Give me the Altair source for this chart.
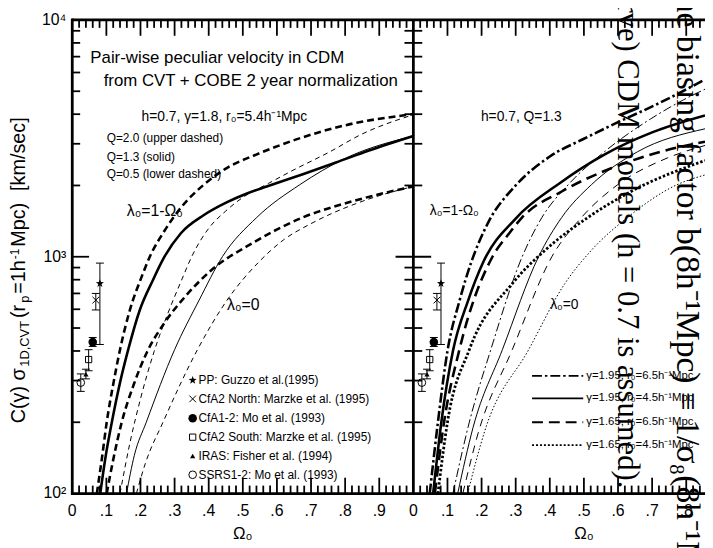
import altair as alt
import pandas as pd

# ---------------- values ----------------
# Left panel (h=0.7, gamma=1.8, r0=5.4): thick = lambda0=1-Omega0, thin = lambda0=0
L_Q20_FLAT_X = [0.072, 0.087, 0.101, 0.121, 0.140, 0.169, 0.203, 0.227, 0.271, 0.319, 0.386, 0.454, 0.541, 0.657, 0.802, 1.0]
L_Q20_FLAT_Y = [100, 141, 200, 294, 405, 596, 820, 998, 1291, 1615, 2017, 2374, 2706, 3130, 3596, 4000]
L_Q13_FLAT_X = [0.082, 0.097, 0.116, 0.140, 0.164, 0.198, 0.237, 0.266, 0.319, 0.386, 0.454, 0.512, 0.570, 0.676, 0.773, 0.870, 1.0]
L_Q13_FLAT_Y = [100, 141, 200, 294, 405, 596, 800, 975, 1260, 1500, 1700, 1850, 1980, 2230, 2500, 2810, 3236]
L_Q05_FLAT_X = [0.101, 0.121, 0.145, 0.180, 0.220, 0.270, 0.330, 0.406, 0.531, 0.676, 0.821, 1.0]
L_Q05_FLAT_Y = [100, 141, 200, 288, 398, 525, 676, 873, 1148, 1466, 1714, 1982]
L_Q20_OPEN_X = [0.140, 0.170, 0.200, 0.240, 0.280, 0.320, 0.350, 0.400, 0.450, 0.500, 0.575, 0.650, 0.750, 0.850, 1.0]
L_Q20_OPEN_Y = [100, 166, 251, 398, 575, 794, 1000, 1318, 1560, 1780, 2040, 2330, 2750, 3300, 3980]
L_Q13_OPEN_X = [0.159, 0.182, 0.217, 0.300, 0.372, 0.440, 0.541, 0.667, 0.802, 1.0]
L_Q13_OPEN_Y = [100, 145, 200, 405, 656, 1000, 1466, 2015, 2610, 3236]
L_Q05_OPEN_X = [0.188, 0.215, 0.266, 0.367, 0.454, 0.550, 0.620, 0.700, 0.850, 1.0]
L_Q05_OPEN_Y = [100, 135, 200, 405, 656, 960, 1180, 1380, 1714, 1982]

# Right panel (h=0.7, Q=1.3)
R_195_65_FLAT_X = [0.048, 0.072, 0.100, 0.135, 0.170, 0.220, 0.300, 0.400, 0.500, 0.600, 0.720, 0.855]
R_195_65_FLAT_Y = [100, 200, 400, 650, 950, 1400, 2000, 2650, 3150, 3700, 4450, 5600]
R_195_45_FLAT_X = [0.058, 0.082, 0.116, 0.160, 0.205, 0.300, 0.430, 0.560, 0.700, 0.855]
R_195_45_FLAT_Y = [100, 200, 400, 650, 950, 1450, 2050, 2700, 3350, 3950]
R_165_65_FLAT_X = [0.063, 0.090, 0.135, 0.232, 0.280, 0.319, 0.435, 0.580, 0.725, 0.855]
R_165_65_FLAT_Y = [100, 200, 405, 1000, 1250, 1466, 1886, 2365, 2775, 3060]
R_165_45_FLAT_X = [0.072, 0.100, 0.164, 0.290, 0.386, 0.512, 0.638, 0.855]
R_165_45_FLAT_Y = [100, 200, 405, 770, 1065, 1466, 1886, 2550]
R_195_65_OPEN_X = [0.116, 0.164, 0.227, 0.319, 0.377, 0.454, 0.560, 0.696, 0.792, 0.855]
R_195_65_OPEN_Y = [100, 200, 405, 1000, 1466, 2015, 2775, 3824, 4600, 5100]
R_195_45_OPEN_X = [0.130, 0.175, 0.261, 0.367, 0.435, 0.522, 0.657, 0.855]
R_195_45_OPEN_Y = [100, 190, 405, 1000, 1466, 2015, 2775, 3470]
R_165_65_OPEN_X = [0.145, 0.190, 0.290, 0.406, 0.493, 0.599, 0.744, 0.855]
R_165_65_OPEN_Y = [100, 180, 405, 1000, 1466, 2015, 2610, 2950]
R_165_45_OPEN_X = [0.159, 0.210, 0.338, 0.444, 0.522, 0.628, 0.773, 0.855]
R_165_45_OPEN_Y = [100, 185, 405, 770, 1065, 1466, 2015, 2215]

# Observations
OBS_NAMES = ["PP: Guzzo et al.(1995)", "CfA2 North: Marzke et al. (1995)", "CfA1-2: Mo et al. (1993)",
             "CfA2 South: Marzke et al. (1995)", "IRAS: Fisher et al. (1994)", "SSRS1-2: Mo et al. (1993)"]
OBS_X = [0.081, 0.069, 0.060, 0.048, 0.040, 0.025]
OBS_Y = [771, 656, 436, 368, 319, 294]
OBS_LO = [426, 596, 418, 330, 305, 270]
OBS_HI = [940, 700, 456, 405, 335, 320]
OBS_LEGEND_X = 0.353
OBS_LEGEND_Y = [301, 251, 208, 173, 144, 120]

R_LEGEND_LABELS = ["γ=1.95, r₀=6.5h⁻¹Mpc", "γ=1.95, r₀=4.5h⁻¹Mpc",
                   "γ=1.65, r₀=6.5h⁻¹Mpc", "γ=1.65, r₀=4.5h⁻¹Mpc"]
R_LEGEND_Y = [314, 252, 200, 160]

X_TICK_VALUES = [i / 10 for i in range(19)]
X_TICK_LABELS = ["0", ".1", ".2", ".3", ".4", ".5", ".6", ".7", ".8", ".9",
                 "0", ".1", ".2", ".3", ".4", ".5", ".6", ".7", ".8"]
Y_TICK_VALUES = [100, 1000, 10000]
Y_TICK_LABELS = ["10²", "10³", "10⁴"]
Y_MINOR = [200, 300, 400, 500, 600, 700, 800, 900, 2000, 3000, 4000, 5000, 6000, 7000, 8000, 9000]

# ---------------- layout / style ----------------
W, H = 640, 479
OFF = 1.0            # right panel shifted by one unit on the shared x scale
XMAX = 1.855
PX = W / XMAX
FONT = "Liberation Sans"
XS = alt.Scale(domain=[0, XMAX], nice=False, zero=False)
YS = alt.Scale(type="log", domain=[100, 10000], nice=False)


def ex(f="x"):
    return alt.X(f + ":Q", scale=XS, axis=None)


def ey(f="y"):
    return alt.Y(f + ":Q", scale=YS, axis=None)


def text_layer(df, size, align="left", baseline="middle", font=FONT, angle=None, **enc):
    kw = dict(font=font, fontSize=size, align=align, baseline=baseline, color="black")
    if angle is not None:
        kw["angle"] = angle
    return alt.Chart(df).mark_text(**kw).encode(text="t:N", **enc)


layers = []

# curves
def curve(xs, ys, width, dash, offset=0.0):
    df = pd.DataFrame({"x": [v + offset for v in xs], "y": ys})
    kw = dict(color="black", strokeWidth=width, clip=True, interpolate="monotone", strokeCap="butt")
    if dash:
        kw["strokeDash"] = dash
    return alt.Chart(df).mark_line(**kw).encode(x=ex(), y=ey())


THICK, THIN = 2.6, 1.0
layers += [
    curve(L_Q20_FLAT_X, L_Q20_FLAT_Y, THICK, [7, 4]),
    curve(L_Q13_FLAT_X, L_Q13_FLAT_Y, THICK, None),
    curve(L_Q05_FLAT_X, L_Q05_FLAT_Y, THICK, [7, 4]),
    curve(L_Q20_OPEN_X, L_Q20_OPEN_Y, THIN, [5, 4]),
    curve(L_Q13_OPEN_X, L_Q13_OPEN_Y, THIN, None),
    curve(L_Q05_OPEN_X, L_Q05_OPEN_Y, THIN, [5, 4]),
]
DASHDOT, DASH_R, DOT = [10, 3, 2.5, 3], [11, 6], [2.5, 2]
layers += [
    curve(R_195_65_FLAT_X, R_195_65_FLAT_Y, THICK, DASHDOT, OFF),
    curve(R_195_45_FLAT_X, R_195_45_FLAT_Y, THICK, None, OFF),
    curve(R_165_65_FLAT_X, R_165_65_FLAT_Y, THICK, DASH_R, OFF),
    curve(R_165_45_FLAT_X, R_165_45_FLAT_Y, 2.8, DOT, OFF),
    curve(R_195_65_OPEN_X, R_195_65_OPEN_Y, THIN, [9, 3, 2, 3], OFF),
    curve(R_195_45_OPEN_X, R_195_45_OPEN_Y, THIN, None, OFF),
    curve(R_165_65_OPEN_X, R_165_65_OPEN_Y, THIN, [8, 6], OFF),
    curve(R_165_45_OPEN_X, R_165_45_OPEN_Y, THIN, [1.5, 2], OFF),
]

# right legend lines
LEG_DASHES = [DASHDOT, None, [11, 6], [2, 2]]
for lab, yv, d in zip(R_LEGEND_LABELS, R_LEGEND_Y, LEG_DASHES):
    df = pd.DataFrame({"x": [OFF + 0.348], "x2": [OFF + 0.498], "y": [yv]})
    kw = dict(color="black", strokeWidth=1.8, strokeCap="butt")
    if d:
        kw["strokeDash"] = d
    layers.append(alt.Chart(df).mark_rule(**kw).encode(x=ex(), x2="x2:Q", y=ey()))
leg_df = pd.DataFrame({"x": [OFF + 0.507] * 4, "y": R_LEGEND_Y, "t": R_LEGEND_LABELS})
layers.append(text_layer(leg_df, 11.5, x=ex(), y=ey()))

# observations (both panels) + error bars
STAR = "M0,-1L0.235,-0.324L0.951,-0.309L0.38,0.124L0.588,0.809L0,0.4L-0.588,0.809L-0.38,0.124L-0.951,-0.309L-0.235,-0.324Z"
XMARK = "M-1,-1L1,1M-1,1L1,-1"
MARKERS = [dict(shape=STAR, filled=True, size=75),
           dict(shape=XMARK, filled=False, size=45, strokeWidth=1),
           dict(shape="circle", filled=True, size=75),
           dict(shape="square", filled=False, size=40, strokeWidth=1),
           dict(shape="triangle-up", filled=True, size=28),
           dict(shape="circle", filled=False, size=60, strokeWidth=1)]
CAP = 4.0 / PX
for off in (0.0, OFF):
    eb = pd.DataFrame({"x": [v + off for v in OBS_X], "lo": OBS_LO, "hi": OBS_HI,
                       "xl": [v + off - CAP for v in OBS_X], "xr": [v + off + CAP for v in OBS_X]})
    layers.append(alt.Chart(eb).mark_rule(color="black", strokeWidth=1).encode(x=ex(), y=ey("lo"), y2="hi:Q"))
    layers.append(alt.Chart(eb).mark_rule(color="black", strokeWidth=1).encode(x=ex("xl"), x2="xr:Q", y=ey("lo")))
    layers.append(alt.Chart(eb).mark_rule(color="black", strokeWidth=1).encode(x=ex("xl"), x2="xr:Q", y=ey("hi")))
    for i, m in enumerate(MARKERS):
        df = pd.DataFrame({"x": [OBS_X[i] + off], "y": [OBS_Y[i]]})
        layers.append(alt.Chart(df).mark_point(color="black", opacity=1, **m).encode(x=ex(), y=ey()))

# left legend for observations
for i, m in enumerate(MARKERS):
    df = pd.DataFrame({"x": [OBS_LEGEND_X], "y": [OBS_LEGEND_Y[i]]})
    layers.append(alt.Chart(df).mark_point(color="black", opacity=1, **m).encode(x=ex(), y=ey()))
obs_leg = pd.DataFrame({"x": [OBS_LEGEND_X + 0.017] * 6, "y": OBS_LEGEND_Y, "t": OBS_NAMES})
layers.append(text_layer(obs_leg, 12, x=ex(), y=ey()))

# annotations (data coordinates)
ANNOT = [
    ("Pair-wise peculiar velocity in CDM", 0.053, 6920, 17),
    ("from CVT + COBE 2 year normalization", 0.092, 5520, 17),
    ("h=0.7, γ=1.8, r₀=5.4h⁻¹Mpc", 0.203, 3880, 14),
    ("Q=2.0 (upper dashed)", 0.101, 3160, 12),
    ("Q=1.3 (solid)", 0.101, 2640, 12),
    ("Q=0.5 (lower dashed)", 0.101, 2230, 12),
    ("λ₀=1-Ω₀", 0.160, 1560, 16),
    ("λ₀=0", 0.454, 625, 16),
    ("h=0.7, Q=1.3", OFF + 0.198, 3880, 14),
    ("λ₀=1-Ω₀", OFF + 0.048, 1560, 14),
    ("λ₀=0", OFF + 0.401, 625, 14),
]
for t, xv, yv, fs in ANNOT:
    df = pd.DataFrame({"x": [xv], "y": [yv], "t": [t]})
    layers.append(text_layer(df, fs, x=ex(), y=ey()))

# frame: four borders + panel divider
one = pd.DataFrame({"x": [OFF]})
FW = 2.8
layers.append(alt.Chart(one).mark_rule(color="black", strokeWidth=FW).encode(
    x=alt.value(0), x2=alt.value(W), y=alt.value(0)))
layers.append(alt.Chart(one).mark_rule(color="black", strokeWidth=FW).encode(
    x=alt.value(0), x2=alt.value(W), y=alt.value(H)))
layers.append(alt.Chart(one).mark_rule(color="black", strokeWidth=FW).encode(
    x=alt.value(0), y=alt.value(-1.4), y2=alt.value(H + 1.4)))
layers.append(alt.Chart(one).mark_rule(color="black", strokeWidth=FW).encode(
    x=ex(), y=alt.value(0), y2=alt.value(H)))

# inward ticks
minor_x = [round(0.02 * i, 2) for i in range(1, 93) if i % 5 != 0]
major_x = [round(0.1 * i, 1) for i in range(1, 19) if i != 10]
for vals, ln in ((minor_x, 8), (major_x, 16)):
    df = pd.DataFrame({"x": vals})
    layers.append(alt.Chart(df).mark_rule(color="black", strokeWidth=1.8).encode(
        x=ex(), y=alt.value(H), y2=alt.value(H - ln)))
    layers.append(alt.Chart(df).mark_rule(color="black", strokeWidth=1.8).encode(
        x=ex(), y=alt.value(0), y2=alt.value(ln)))
for vals, ln in ((Y_MINOR, 8), ([1000], 17)):
    df = pd.DataFrame({"y": vals})
    layers.append(alt.Chart(df).mark_rule(color="black", strokeWidth=1.8).encode(
        y=ey(), x=alt.value(0), x2=alt.value(ln)))
    layers.append(alt.Chart(df).mark_rule(color="black", strokeWidth=1.8).encode(
        y=ey(), x=alt.value(PX * OFF - ln - 1), x2=alt.value(PX * OFF + ln + 1)))

# tick labels
xl_df = pd.DataFrame({"x": X_TICK_VALUES, "t": X_TICK_LABELS})
layers.append(text_layer(xl_df, 16, align="center", x=ex(), y=alt.value(H + 18)))
yl_df = pd.DataFrame({"y": Y_TICK_VALUES, "t": Y_TICK_LABELS})
layers.append(text_layer(yl_df, 16, align="right", x=alt.value(-6), y=ey()))

# x-axis titles
om_df = pd.DataFrame({"x": [0.5, OFF + 0.5], "t": ["Ω₀", "Ω₀"]})
layers.append(text_layer(om_df, 17, align="center", x=ex(), y=alt.value(H + 41)))

# y-axis title built from pieces (main text, subscripts, superscript), laid out bottom-to-top
YT = [("C(γ) σ", 20, 0, 2.716, 3), ("1D,CVT", 13, 4, 3.556, 3), ("(r", 20, 0, 0.666, 2),
      ("p", 13, 4, 0.556, 2), ("=1h", 20, 0, 1.696, 1), ("-1", 12, -6, 0.889, 2),
      ("Mpc)", 20, 0, 2.222, 12), ("[km/sec]", 20, 0, 3.723, 0)]
pos = 425.0
for t, fs, sh, em, gap in YT:
    df = pd.DataFrame({"t": [t]})
    layers.append(text_layer(df, fs, baseline="alphabetic", angle=270,
                             x=alt.value(-48 + sh), y=alt.value(pos - 17)))
    pos -= em * fs + gap

# rotated serif text bleeding through from the page
SERIF = [("the biasing factor b(8h⁻¹Mpc) ≡ 1/σ₈(8h⁻¹Mpc)", 34, 622, -34),
         ("curve) CDM models (h = 0.7 is assumed).", 31, 561, -47)]
for t, fs, xp, yp in SERIF:
    df = pd.DataFrame({"t": [t]})
    layers.append(text_layer(df, fs, font="Liberation Serif", angle=90,
                             x=alt.value(xp), y=alt.value(yp)))

chart = alt.layer(*layers).properties(
    width=W, height=H,
    autosize=alt.AutoSizeParams(type="none"),
    padding={"left": 65, "top": 9, "right": 0, "bottom": 52},
).configure_view(stroke=None)

chart.save("out.html", embed_options={"renderer": "svg", "actions": False})
